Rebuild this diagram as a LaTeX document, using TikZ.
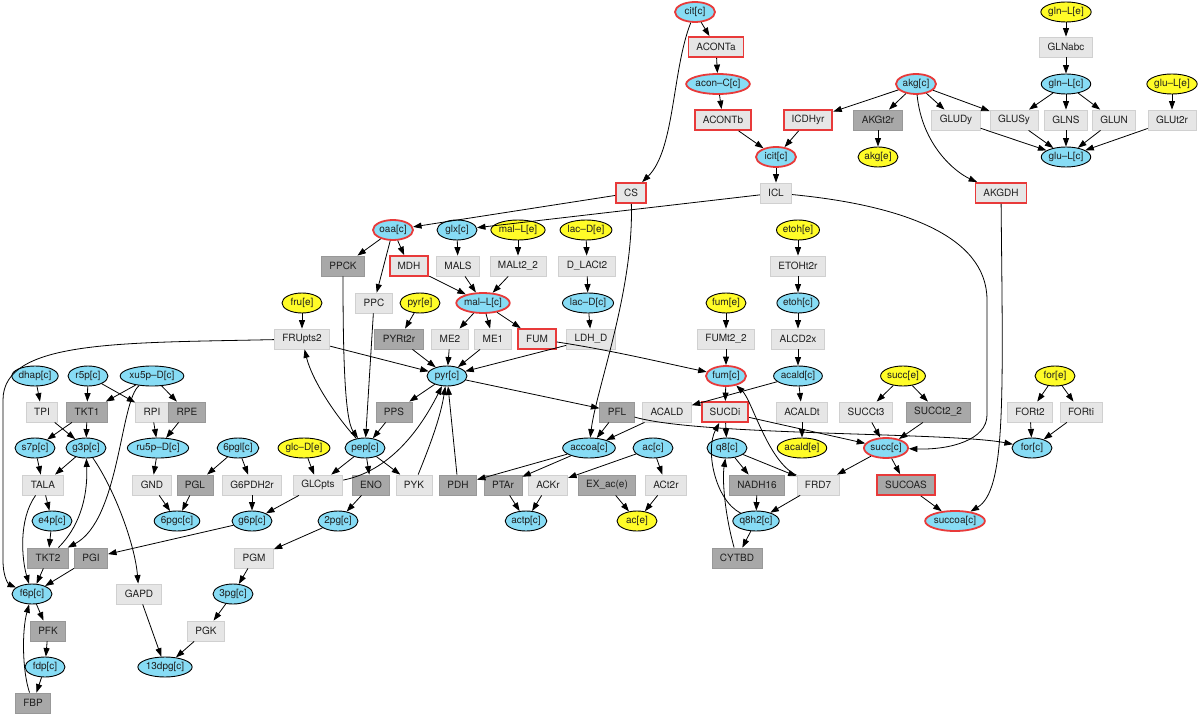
\documentclass[tikz,border=0pt]{standalone}
\usepackage{fontspec}
\setmainfont{TeX Gyre Heros}
\usetikzlibrary{shapes.geometric,arrows.meta}
\definecolor{mblue}{RGB}{135,220,245}
\definecolor{myel}{RGB}{255,252,40}
\definecolor{redb}{RGB}{232,58,58}
\definecolor{boxl}{RGB}{230,230,230}
\definecolor{boxlb}{RGB}{208,208,208}
\definecolor{boxd}{RGB}{168,168,168}
\definecolor{boxdb}{RGB}{152,152,152}
\tikzset{
 every node/.style={font=\fontsize{10}{12}\selectfont, text=black!88},
 rx/.style={rectangle, minimum height=20pt, inner xsep=8pt, inner ysep=0pt, line width=0.8pt},
 rl/.style={rx, fill=boxl, draw=boxlb},
 rd/.style={rx, fill=boxd, draw=boxdb},
 rr/.style={rx, fill=boxl, draw=redb, line width=1.8pt},
 rrd/.style={rx, fill=boxd, draw=redb, line width=1.8pt},
 mx/.style={ellipse, minimum height=20pt, minimum width=40pt, inner xsep=0pt, inner ysep=0pt, line width=0.9pt, draw=black},
 mb/.style={mx, fill=mblue},
 my/.style={mx, fill=myel},
 mr/.style={mx, fill=mblue, draw=redb, line width=1.8pt},
 edg/.style={line width=0.8pt, -{Triangle[length=8.5pt,width=6pt]}},
}
\begin{document}
\begin{tikzpicture}[x=1pt,y=-1pt]
\useasboundingbox (0,0) rectangle (1200,714);
\fill[white] (0,0) rectangle (1200,714);
% rank 0
\node[mr] (cit) at (695,12) {cit[c]};
\node[my] (glnLe) at (1066,12) {gln--L[e]};
% rank 1
\node[rr] (ACONTa) at (716,47) {ACONTa};
\node[rl] (GLNabc) at (1066,47) {GLNabc};
% rank 2
\node[mr] (aconC) at (718,84) {acon--C[c]};
\node[mr] (akg) at (916,84) {akg[c]};
\node[mb] (glnLc) at (1066,84) {gln--L[c]};
\node[my] (gluLe) at (1172,84) {glu--L[e]};
% rank 3
\node[rr] (ACONTb) at (723,120) {ACONTb};
\node[rr] (ICDHyr) at (808,120) {ICDHyr};
\node[rd] (AKGt2r) at (878,120) {AKGt2r};
\node[rl] (GLUDy) at (956,120) {GLUDy};
\node[rl] (GLUSy) at (1014,120) {GLUSy};
\node[rl] (GLNS) at (1066,120) {GLNS};
\node[rl] (GLUN) at (1114,120) {GLUN};
\node[rl] (GLUt2r) at (1172,120) {GLUt2r};
% rank 4
\node[mr] (icit) at (776,157) {icit[c]};
\node[my] (akge) at (878,157) {akg[e]};
\node[mb] (gluLc) at (1066,157) {glu--L[c]};
% rank 5
\node[rr] (CS) at (631,193) {CS};
\node[rl] (ICL) at (776,193) {ICL};
\node[rr] (AKGDH) at (1001,193) {AKGDH};
% rank 6
\node[mr] (oaa) at (393,230) {oaa[c]};
\node[mb] (glx) at (457,230) {glx[c]};
\node[my] (malLe) at (518,230) {mal--L[e]};
\node[my] (lacDe) at (586,230) {lac--D[e]};
\node[my] (etohe) at (798,230) {etoh[e]};
% rank 7
\node[rd] (PPCK) at (343,266) {PPCK};
\node[rr] (MDH) at (409,266) {MDH};
\node[rl] (MALS) at (458,266) {MALS};
\node[rl] (MALt22) at (518,266) {MALt2\_2};
\node[rl] (DLACt2) at (587,266) {D\_LACt2};
\node[rl] (ETOHt2r) at (798,266) {ETOHt2r};
% rank 8
\node[my] (frue) at (302,303) {fru[e]};
\node[rl] (PPC) at (374,303) {PPC};
\node[my] (pyre) at (420,303) {pyr[e]};
\node[mr] (malLc) at (483,303) {mal--L[c]};
\node[mb] (lacDc) at (588,303) {lac--D[c]};
\node[my] (fume) at (726,303) {fum[e]};
\node[mb] (etohc) at (798,303) {etoh[c]};
% rank 9
\node[rl] (FRUpts2) at (302,339) {FRUpts2};
\node[rd] (PYRt2r) at (399,339) {PYRt2r};
\node[rl] (ME2) at (450,339) {ME2};
\node[rl] (ME1) at (493,339) {ME1};
\node[rr] (FUM) at (537,339) {FUM};
\node[rl] (LDHD) at (591,339) {LDH\_D};
\node[rl] (FUMt22) at (726,339) {FUMt2\_2};
\node[rl] (ALCD2x) at (798,339) {ALCD2x};
% rank 10
\node[mb] (dhap) at (35,376) {dhap[c]};
\node[mb] (r5p) at (88,376) {r5p[c]};
\node[mb] (xu5p) at (152,376) {xu5p--D[c]};
\node[mb] (pyrc) at (447,376) {pyr[c]};
\node[mr] (fumc) at (726,376) {fum[c]};
\node[mb] (acaldc) at (798,376) {acald[c]};
\node[my] (succe) at (903,376) {succ[e]};
\node[my] (fore) at (1055,376) {for[e]};
% rank 11
\node[rl] (TPI) at (42,412) {TPI};
\node[rd] (TKT1) at (87,412) {TKT1};
\node[rl] (RPI) at (152,412) {RPI};
\node[rd] (RPE) at (187,412) {RPE};
\node[rd] (PPS) at (394,412) {PPS};
\node[rd] (PFL) at (617,412) {PFL};
\node[rl] (ACALD) at (667,412) {ACALD};
\node[rr] (SUCDi) at (725,412) {SUCDi};
\node[rl] (ACALDt) at (802,412) {ACALDt};
\node[rl] (SUCCt3) at (866,412) {SUCCt3};
\node[rd] (SUCCt22) at (938,412) {SUCCt2\_2};
\node[rl] (FORt2) at (1030,412) {FORt2};
\node[rl] (FORti) at (1081,412) {FORti};
% rank 12
\node[mb] (s7p) at (35,448) {s7p[c]};
\node[mb] (g3p) at (86,448) {g3p[c]};
\node[mb] (ru5p) at (158,448) {ru5p--D[c]};
\node[mb] (pgl6) at (238,448) {6pgl[c]};
\node[my] (glcDe) at (304,448) {glc--D[e]};
\node[mb] (pep) at (365,448) {pep[c]};
\node[mb] (accoa) at (589,448) {accoa[c]};
\node[mb] (acc) at (653,448) {ac[c]};
\node[mb] (q8) at (727,448) {q8[c]};
\node[my] (acalde) at (802,448) {acald[e]};
\node[mr] (succc) at (886,448) {succ[c]};
\node[mb] (forc) at (1032,448) {for[c]};
% rank 13
\node[rl] (TALA) at (43,485) {TALA};
\node[rl] (GND) at (152,485) {GND};
\node[rd] (PGL) at (195,485) {PGL};
\node[rl] (G6PDH2r) at (252,485) {G6PDH2r};
\node[rl] (GLCpts) at (318,485) {GLCpts};
\node[rd] (ENO) at (371,485) {ENO};
\node[rl] (PYK) at (414,485) {PYK};
\node[rd] (PDH) at (458,485) {PDH};
\node[rd] (PTAr) at (503,485) {PTAr};
\node[rl] (ACKr) at (548,485) {ACKr};
\node[rd] (EXac) at (607,485) {EX\_ac(e)};
\node[rl] (ACt2r) at (666,485) {ACt2r};
\node[rd] (NADH16) at (757,485) {NADH16};
\node[rl] (FRD7) at (818,485) {FRD7};
\node[rrd] (SUCOAS) at (906,485) {SUCOAS};
% rank 14
\node[mb] (e4p) at (52,521) {e4p[c]};
\node[mb] (pgc6) at (177,521) {6pgc[c]};
\node[mb] (g6p) at (252,521) {g6p[c]};
\node[mb] (pg2) at (338,521) {2pg[c]};
\node[mb] (actp) at (526,521) {actp[c]};
\node[my] (ace) at (637,521) {ac[e]};
\node[mb] (q8h2) at (756,521) {q8h2[c]};
\node[mr] (succoa) at (955,521) {succoa[c]};
% rank 15
\node[rd] (TKT2) at (48,558) {TKT2};
\node[rd] (PGI) at (91,558) {PGI};
\node[rl] (PGM) at (254,558) {PGM};
\node[rd] (CYTBD) at (737,558) {CYTBD};
% rank 16
\node[mb] (f6p) at (32,594) {f6p[c]};
\node[rl] (GAPD) at (139,594) {GAPD};
\node[mb] (pg3) at (233,594) {3pg[c]};
% rank 17
\node[rd] (PFK) at (48,631) {PFK};
\node[rl] (PGK) at (206,631) {PGK};
% rank 18
\node[mb] (fdp) at (45,667) {fdp[c]};
\node[mb] (dpg13) at (165,667) {13dpg[c]};
% rank 19
\node[rd] (FBP) at (33,703) {FBP};

% ---- edges: TCA top
\draw[edg] (cit) -- (ACONTa);
\draw[edg] (ACONTa) -- (aconC);
\draw[edg] (aconC) -- (ACONTb);
\draw[edg] (ACONTb) -- (icit);
\draw[edg] (ICDHyr) -- (icit);
\draw[edg] (akg) -- (ICDHyr);
\draw[edg] (icit) -- (ICL);
\draw[edg] (cit) .. controls (672,70) and (675,150) .. (CS);
\draw[edg] (akg) -- (AKGt2r);
\draw[edg] (AKGt2r) -- (akge);
\draw[edg] (akg) -- (GLUDy);
\draw[edg] (akg) -- (GLUSy);
\draw[edg] (akg) .. controls (922,145) and (955,172) .. (AKGDH);
\draw[edg] (glnLe) -- (GLNabc);
\draw[edg] (GLNabc) -- (glnLc);
\draw[edg] (glnLc) -- (GLUSy);
\draw[edg] (glnLc) -- (GLNS);
\draw[edg] (glnLc) -- (GLUN);
\draw[edg] (gluLe) -- (GLUt2r);
\draw[edg] (GLUDy) -- (gluLc);
\draw[edg] (GLUSy) -- (gluLc);
\draw[edg] (GLNS) -- (gluLc);
\draw[edg] (GLUN) -- (gluLc);
\draw[edg] (GLUt2r) -- (gluLc);
\draw[edg] (CS) -- (oaa);
\draw[edg] (ICL) -- (glx);
\draw[edg] (ICL) .. controls (900,205) and (987,235) .. (987,300) -- (987,415) .. controls (987,440) and (950,450) .. (succc);
\draw[edg] (CS) .. controls (634,290) and (596,390) .. (accoa);
\draw[edg] (AKGDH) .. controls (1003,400) and (1006,490) .. (succoa);
% ---- oaa / malate
\draw[edg] (oaa) -- (PPCK);
\draw[edg] (oaa) -- (MDH);
\draw[edg] (oaa) -- (PPC);
\draw[edg] (MDH) -- (malLc);
\draw[edg] (glx) -- (MALS);
\draw[edg] (MALS) -- (malLc);
\draw[edg] (malLe) -- (MALt22);
\draw[edg] (MALt22) -- (malLc);
\draw[edg] (lacDe) -- (DLACt2);
\draw[edg] (DLACt2) -- (lacDc);
\draw[edg] (lacDc) -- (LDHD);
\draw[edg] (LDHD) -- (pyrc);
\draw[edg] (malLc) -- (ME2);
\draw[edg] (malLc) -- (ME1);
\draw[edg] (malLc) -- (FUM);
\draw[edg] (ME2) -- (pyrc);
\draw[edg] (ME1) -- (pyrc);
\draw[edg] (FUM) .. controls (610,350) and (660,362) .. (fumc);
% ---- pyruvate / pep
\draw[edg] (frue) -- (FRUpts2);
\draw[edg] (FRUpts2) -- (pyrc);
\draw[edg] (FRUpts2) .. controls (120,343) and (3,340) .. (3,400) -- (3,560) .. controls (3,580) and (10,585) .. (f6p);
\draw[edg] (pyre) -- (PYRt2r);
\draw[edg] (PYRt2r) -- (pyrc);
\draw[edg] (PPCK) .. controls (343,360) and (345,420) .. (pep);
\draw[edg] (PPC) -- (pep);
\draw[edg] (pyrc) -- (PPS);
\draw[edg] (PPS) -- (pep);
\draw[edg] (pyrc) -- (PFL);
\draw[edg] (pep) .. controls (335,415) and (312,380) .. (FRUpts2);
\draw[edg] (pep) -- (GLCpts);
\draw[edg] (pep) -- (ENO);
\draw[edg] (pep) -- (PYK);
\draw[edg] (GLCpts) .. controls (395,470) and (425,420) .. (pyrc);
\draw[edg] (PYK) .. controls (428,450) and (440,420) .. (pyrc);
\draw[edg] (PDH) -- (pyrc);
\draw[edg] (glcDe) -- (GLCpts);
\draw[edg] (GLCpts) -- (g6p);
% ---- glycolysis lower
\draw[edg] (ENO) -- (pg2);
\draw[edg] (pg2) -- (PGM);
\draw[edg] (PGM) -- (pg3);
\draw[edg] (pg3) -- (PGK);
\draw[edg] (PGK) -- (dpg13);
\draw[edg] (GAPD) -- (dpg13);
\draw[edg] (g3p) .. controls (115,490) and (135,545) .. (GAPD);
% ---- pentose phosphate
\draw[edg] (pgl6) -- (PGL);
\draw[edg] (pgl6) -- (G6PDH2r);
\draw[edg] (G6PDH2r) -- (g6p);
\draw[edg] (PGL) -- (pgc6);
\draw[edg] (GND) -- (pgc6);
\draw[edg] (ru5p) -- (GND);
\draw[edg] (r5p) -- (TKT1);
\draw[edg] (r5p) -- (RPI);
\draw[edg] (xu5p) -- (TKT1);
\draw[edg] (xu5p) -- (RPE);
\draw[edg] (xu5p) .. controls (120,400) and (120,520) .. (TKT2);
\draw[edg] (RPI) -- (ru5p);
\draw[edg] (RPE) -- (ru5p);
\draw[edg] (dhap) -- (TPI);
\draw[edg] (TPI) -- (g3p);
\draw[edg] (TKT1) -- (s7p);
\draw[edg] (TKT1) -- (g3p);
\draw[edg] (s7p) -- (TALA);
\draw[edg] (g3p) -- (TALA);
\draw[edg] (TALA) -- (e4p);
\draw[edg] (TALA) .. controls (18,520) and (22,560) .. (f6p);
\draw[edg] (e4p) -- (TKT2);
\draw[edg] (TKT2) .. controls (78,528) and (88,500) .. (g3p);
\draw[edg] (TKT2) -- (f6p);
\draw[edg] (PGI) -- (f6p);
\draw[edg] (g6p) -- (PGI);
\draw[edg] (f6p) -- (PFK);
\draw[edg] (PFK) -- (fdp);
\draw[edg] (fdp) -- (FBP);
\draw[edg] (FBP) .. controls (22,670) and (22,630) .. (f6p);
% ---- right middle
\draw[edg] (fume) -- (FUMt22);
\draw[edg] (FUMt22) -- (fumc);
\draw[edg] (fumc) -- (SUCDi);
\draw[edg] (SUCDi) -- (q8);
\draw[edg] (SUCDi) -- (succc);
\draw[edg] (etohe) -- (ETOHt2r);
\draw[edg] (ETOHt2r) -- (etohc);
\draw[edg] (etohc) -- (ALCD2x);
\draw[edg] (ALCD2x) -- (acaldc);
\draw[edg] (acaldc) -- (ACALD);
\draw[edg] (acaldc) -- (ACALDt);
\draw[edg] (ACALDt) -- (acalde);
\draw[edg] (ACALD) -- (accoa);
\draw[edg] (PFL) -- (accoa);
\draw[edg] (PFL) .. controls (700,436) and (950,432) .. (forc);
\draw[edg] (accoa) -- (PDH);
\draw[edg] (accoa) -- (PTAr);
\draw[edg] (acc) -- (ACKr);
\draw[edg] (acc) -- (ACt2r);
\draw[edg] (PTAr) -- (actp);
\draw[edg] (ACKr) -- (actp);
\draw[edg] (EXac) -- (ace);
\draw[edg] (ACt2r) -- (ace);
\draw[edg] (q8) -- (NADH16);
\draw[edg] (q8) -- (FRD7);
\draw[edg] (NADH16) -- (q8h2);
\draw[edg] (FRD7) -- (q8h2);
\draw[edg] (q8h2) -- (CYTBD);
\draw[edg] (CYTBD) .. controls (725,515) and (722,480) .. (q8);
\draw[edg] (q8h2) .. controls (715,500) and (705,450) .. (SUCDi);
\draw[edg] (FRD7) .. controls (768,462) and (752,400) .. (fumc);
\draw[edg] (succc) -- (FRD7);
\draw[edg] (succe) -- (SUCCt3);
\draw[edg] (succe) -- (SUCCt22);
\draw[edg] (SUCCt3) -- (succc);
\draw[edg] (SUCCt22) -- (succc);
\draw[edg] (succc) -- (SUCOAS);
\draw[edg] (SUCOAS) -- (succoa);
\draw[edg] (fore) -- (FORt2);
\draw[edg] (fore) -- (FORti);
\draw[edg] (FORt2) -- (forc);
\draw[edg] (FORti) -- (forc);
\end{tikzpicture}
\end{document}
